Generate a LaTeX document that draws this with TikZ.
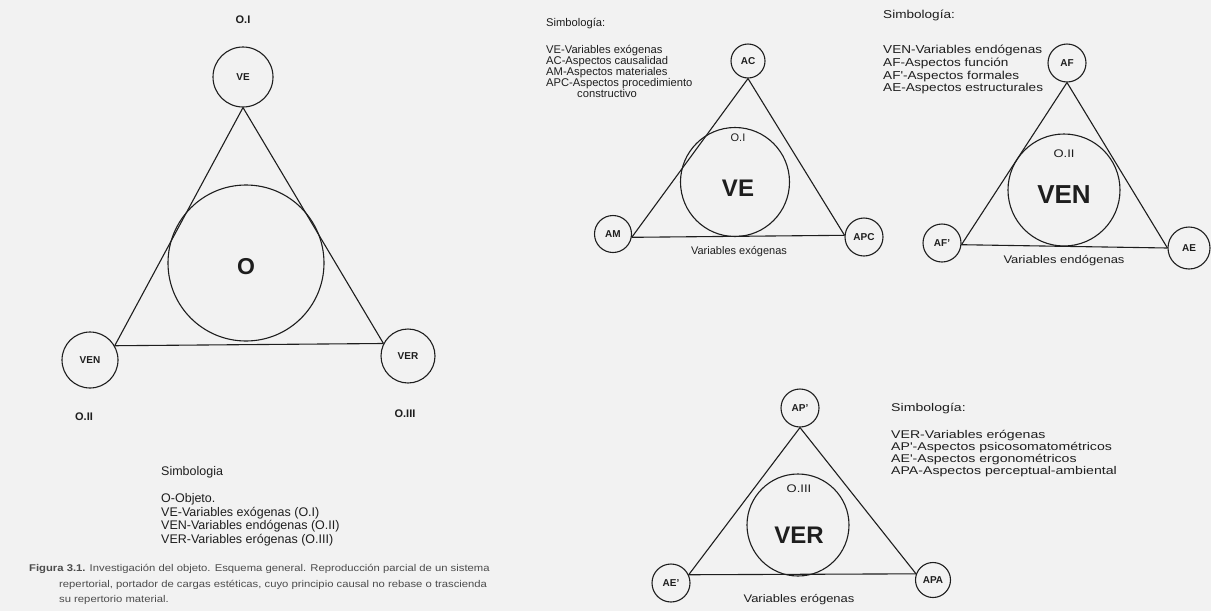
\documentclass[tikz,border=0pt]{standalone}
\usepackage{fontspec}
\setmainfont{Liberation Sans}
\newfontfamily\widefont[FakeStretch=1.18]{Liberation Sans}
\newfontfamily\widerfont[FakeStretch=1.26]{Liberation Sans}
\newfontfamily\capfont[FakeStretch=1.15]{Liberation Sans}
\definecolor{ink}{RGB}{30,30,30}
\definecolor{paper}{RGB}{242,242,242}
\begin{document}
\begin{tikzpicture}[x=1pt,y=-1pt,
  ring/.style={circle,draw=ink,line width=1.1pt,inner sep=0pt,minimum size=#1,text=ink},
  edge/.style={draw=ink,line width=1.1pt},
  small/.style={font=\bfseries\fontsize{10}{12}\selectfont},
  big/.style={font=\bfseries\fontsize{#1}{#1}\selectfont,text=ink,inner sep=0pt},
  lbl/.style={font=\fontsize{11}{13}\selectfont,text=ink,inner sep=0pt},
  legend/.style={align=left,inner sep=0pt,anchor=north west,text=ink}]
\fill[paper] (0,0) rectangle (1211,611);
\useasboundingbox (0,0) rectangle (1211,611);

% ---------------- left: general scheme ----------------
\node[ring=60pt,small] (VE) at (243,77) {VE};
\node[ring=56pt,small] (VEN) at (90,360) {VEN};
\node[ring=54pt,small] (VER) at (408,356) {VER};
\node[ring=156pt] (O) at (246,263) {};
\node[big=23] (Otxt) at (246,267) {O};
\draw[edge] (VE.south) -- (VEN.30);
\draw[edge] (VEN.30) -- (VER.153);
\draw[edge] (VER.153) -- (VE.south);
\node[lbl,font=\bfseries\fontsize{11}{13}\selectfont] (OI) at (243,20) {O.I};
\node[lbl,font=\bfseries\fontsize{11}{13}\selectfont] (OII) at (84,417) {O.II};
\node[lbl,font=\bfseries\fontsize{11}{13}\selectfont] (OIII) at (405,414) {O.III};
\node[legend,font=\fontsize{12.5}{13.6}\selectfont] (simb1) at (161,466)
  {Simbologia\\[13.6pt]O-Objeto.\\VE-Variables exógenas (O.I)\\VEN-Variables endógenas (O.II)\\VER-Variables erógenas (O.III)};
\node[inner sep=0pt,anchor=west,text=black!70,font=\capfont\fontsize{9.8}{11}\selectfont] (cap1) at (29,569)
  {{\bfseries Figura 3.1.} Investigación del objeto. Esquema general. Reproducción parcial de un sistema};
\node[inner sep=0pt,anchor=west,text=black!70,font=\capfont\fontsize{9.8}{11}\selectfont] (cap2) at (59,585)
  {repertorial, portador de cargas estéticas, cuyo principio causal no rebase o trascienda};
\node[inner sep=0pt,anchor=west,text=black!70,font=\capfont\fontsize{9.8}{11}\selectfont] (cap3) at (59,600)
  {su repertorio material.};

% ---------------- middle: VE ----------------
\node[legend,font=\fontsize{11.2}{11}\selectfont] (s2t) at (546,18) {Simbología:};
\node[legend,font=\fontsize{11.2}{11}\selectfont] (s2) at (546,45)
  {VE-Variables exógenas\\AC-Aspectos causalidad\\AM-Aspectos materiales\\APC-Aspectos procedimiento\\\hspace*{31pt}constructivo};
\node[ring=34pt,small] (AC) at (748,61) {AC};
\node[ring=37pt,small] (AM) at (613,234) {AM};
\node[ring=38pt,small] (APC) at (864,237) {APC};
\node[ring=109pt] (VEc) at (735,182) {};
\node[lbl] (VEoi) at (738,138) {O.I};
\node[big=24] (VEtxt) at (738,188) {VE};
\draw[edge] (AC.south) -- (AM.-10);
\draw[edge] (AM.-10) -- (APC.175);
\draw[edge] (APC.175) -- (AC.south);
\node[lbl] (VEcap) at (739,252) {Variables exógenas};

% ---------------- right top: VEN ----------------
\node[legend,font=\widefont\fontsize{11.5}{12.7}\selectfont] (s3t) at (883,10) {Simbología:};
\node[legend,font=\widefont\fontsize{11.5}{12.7}\selectfont] (s3) at (883,45)
  {VEN-Variables endógenas\\AF-Aspectos función\\AF'-Aspectos formales\\AE-Aspectos estructurales};
\node[ring=38pt,small] (AF) at (1067,63) {AF};
\node[ring=38pt,small] (AFp) at (942,243) {AF'};
\node[ring=42pt,small] (AE) at (1189,248) {AE};
\node[ring=112pt] (VENc) at (1064,190) {};
\node[lbl,font=\widefont\fontsize{11}{13}\selectfont] (VENoii) at (1064,154) {O.II};
\node[big=26] (VENtxt) at (1064,195) {VEN};
\draw[edge] (AF.south) -- (AFp.-5);
\draw[edge] (AFp.-5) -- (AE.west);
\draw[edge] (AE.west) -- (AF.south);
\node[lbl,font=\widefont\fontsize{11}{13}\selectfont] (VENcap) at (1064,261) {Variables endógenas};

% ---------------- bottom: VER ----------------
\node[legend,font=\widerfont\fontsize{11.2}{12}\selectfont] (s4t) at (891,403) {Simbología:};
\node[legend,font=\widerfont\fontsize{11.2}{12}\selectfont] (s4) at (891,430)
  {VER-Variables erógenas\\AP'-Aspectos psicosomatométricos\\AE'-Aspectos ergonométricos\\APA-Aspectos perceptual-ambiental};
\node[ring=38pt,small] (APp) at (800,408) {AP'};
\node[ring=38pt,small] (AEp) at (671,583) {AE'};
\node[ring=35pt,small] (APA) at (933,580) {APA};
\node[ring=102pt] (VERc) at (798,525) {};
\node[lbl,font=\widefont\fontsize{11}{13}\selectfont] (VERoiii) at (799,489) {O.III};
\node[big=24] (VERtxt) at (799,535) {VER};
\draw[edge] (APp.south) -- (AEp.25);
\draw[edge] (AEp.25) -- (APA.160);
\draw[edge] (APA.160) -- (APp.south);
\node[lbl,font=\widefont\fontsize{11}{13}\selectfont] (VERcap) at (799,600) {Variables erógenas};
\end{tikzpicture}
\end{document}
